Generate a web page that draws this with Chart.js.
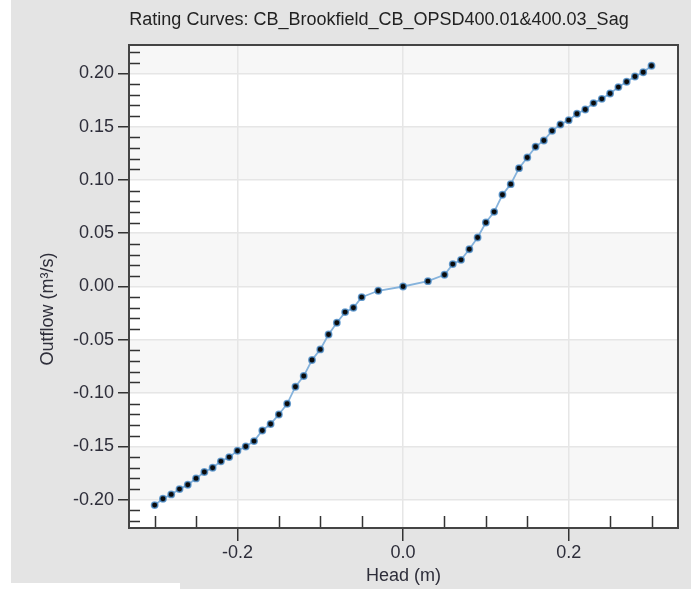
<!DOCTYPE html>
<html>
<head>
<meta charset="utf-8">
<script src="https://cdn.jsdelivr.net/npm/chart.js@4.4.0/dist/chart.umd.min.js"></script>
<style>
  html, body { margin: 0; padding: 0; background: #fff; }
  canvas { display: block; }
</style>
</head>
<body>
<canvas id="chart" width="691" height="589"></canvas>
<script>
const chartTitle = 'Rating Curves: CB_Brookfield_CB_OPSD400.01&400.03_Sag';
const xTitle = 'Head (m)';
const yTitle = 'Outflow (m³/s)';

// head (m) and outflow (m3/s)
const head = [-0.30, -0.29, -0.28, -0.27, -0.26, -0.25, -0.24, -0.23, -0.22, -0.21,
  -0.20, -0.19, -0.18, -0.17, -0.16, -0.15, -0.14, -0.13, -0.12, -0.11,
  -0.10, -0.09, -0.08, -0.07, -0.06, -0.05, -0.03, 0.00, 0.03, 0.05,
  0.06, 0.07, 0.08, 0.09, 0.10, 0.11, 0.12, 0.13, 0.14, 0.15,
  0.16, 0.17, 0.18, 0.19, 0.20, 0.21, 0.22, 0.23, 0.24, 0.25,
  0.26, 0.27, 0.28, 0.29, 0.30];
const outflow = [-0.205, -0.199, -0.195, -0.190, -0.186, -0.180, -0.174, -0.170, -0.164, -0.160,
  -0.154, -0.150, -0.145, -0.135, -0.129, -0.120, -0.110, -0.094, -0.084, -0.069,
  -0.059, -0.045, -0.034, -0.024, -0.020, -0.010, -0.004, 0.000, 0.005, 0.011,
  0.021, 0.025, 0.035, 0.046, 0.060, 0.070, 0.086, 0.096, 0.111, 0.121,
  0.131, 0.137, 0.146, 0.152, 0.156, 0.162, 0.166, 0.172, 0.176, 0.181,
  0.187, 0.192, 0.197, 0.201, 0.207];

// tick positions
const xTicks = [-0.30, -0.25, -0.20, -0.15, -0.10, -0.05, 0.00, 0.05, 0.10, 0.15, 0.20, 0.25, 0.30];
const xMajor = [-0.2, 0.0, 0.2];
const yTicks = [-0.22, -0.21, -0.20, -0.19, -0.18, -0.17, -0.16, -0.15, -0.14, -0.13, -0.12,
  -0.11, -0.10, -0.09, -0.08, -0.07, -0.06, -0.05, -0.04, -0.03, -0.02, -0.01, 0.00,
  0.01, 0.02, 0.03, 0.04, 0.05, 0.06, 0.07, 0.08, 0.09, 0.10, 0.11, 0.12,
  0.13, 0.14, 0.15, 0.16, 0.17, 0.18, 0.19, 0.20, 0.21, 0.22];
const yMajor = [0.20, 0.15, 0.10, 0.05, 0.00, -0.05, -0.10, -0.15, -0.20];

const isIn = (arr, v) => arr.some(m => Math.abs(m - v) < 1e-9);
const FONT = "'Liberation Sans', Arial, sans-serif";
const TXT = '#2e2e3a';

const decor = {
  id: 'decor',
  beforeDraw(chart) {
    const ctx = chart.ctx;
    const a = chart.chartArea;
    const y = chart.scales.y;
    ctx.save();
    ctx.fillStyle = '#fff';
    ctx.fillRect(0, 0, chart.width, chart.height);
    ctx.fillStyle = '#e4e4e4';
    ctx.fillRect(11, 0, chart.width - 11, 583);
    ctx.fillRect(180, 583, chart.width - 180, chart.height - 583);
    // alternating bands between the major y lines
    const edges = [a.top].concat(yMajor.map(v => y.getPixelForValue(v)), [a.bottom]);
    for (let i = 0; i < edges.length - 1; i++) {
      ctx.fillStyle = i % 2 === 0 ? '#f7f7f7' : '#ffffff';
      ctx.fillRect(a.left, edges[i], a.right - a.left, edges[i + 1] - edges[i]);
    }
    ctx.restore();
  },
  afterDraw(chart) {
    const ctx = chart.ctx;
    const a = chart.chartArea;
    const xs = chart.scales.x, ys = chart.scales.y;
    ctx.save();
    ctx.strokeStyle = '#333';
    ctx.lineWidth = 1.5;
    ctx.beginPath();
    xTicks.filter(v => !isIn(xMajor, v)).forEach(v => {
      const px = Math.round(xs.getPixelForValue(v)) + 0.5;
      ctx.moveTo(px, a.bottom);
      ctx.lineTo(px, a.bottom - 12);
    });
    yTicks.filter(v => !isIn(yMajor, v)).forEach(v => {
      const py = Math.round(ys.getPixelForValue(v)) + 0.5;
      ctx.moveTo(a.left, py);
      ctx.lineTo(a.left + 11, py);
    });
    ctx.stroke();
    ctx.strokeStyle = '#444';
    ctx.lineWidth = 2;
    ctx.strokeRect(a.left, a.top, a.right - a.left, a.bottom - a.top);

    ctx.fillStyle = '#222';
    ctx.font = '18px ' + FONT;
    ctx.textAlign = 'center';
    ctx.textBaseline = 'middle';
    ctx.fillText(chartTitle, 379, 20);
    ctx.fillStyle = TXT;
    ctx.translate(48, 309);
    ctx.rotate(-Math.PI / 2);
    ctx.fillText(yTitle, 0, 0);
    ctx.restore();
  }
};

new Chart(document.getElementById('chart'), {
  type: 'line',
  data: {
    datasets: [{
      data: head.map((h, i) => ({ x: h, y: outflow[i] })),
      borderColor: '#86b3dc',
      borderWidth: 1.8,
      pointRadius: 3.2,
      pointBackgroundColor: '#0a0a0a',
      pointBorderColor: 'rgba(80,145,205,0.8)',
      pointBorderWidth: 1.5,
      tension: 0
    }]
  },
  options: {
    responsive: false,
    animation: false,
    devicePixelRatio: 1,
    layout: { padding: { top: 45, right: 13, left: 0, bottom: 0 } },
    plugins: { legend: { display: false }, tooltip: { enabled: false } },
    scales: {
      x: {
        type: 'linear',
        min: -0.331,
        max: 0.332,
        afterBuildTicks: s => { s.ticks = xTicks.map(v => ({ value: v })); },
        afterFit: s => { s.height = 61; },
        ticks: {
          autoSkip: false, maxRotation: 0, padding: 1,
          color: TXT, font: { family: FONT, size: 18 },
          callback: v => isIn(xMajor, v) ? v.toFixed(1) : ''
        },
        grid: {
          color: c => isIn(xMajor, c.tick.value) ? '#e6e6e6' : 'rgba(0,0,0,0)',
          tickColor: c => isIn(xMajor, c.tick.value) ? '#333' : 'rgba(0,0,0,0)',
          tickLength: 13,
          lineWidth: 1.5,
          tickWidth: 1.5
        },
        border: { display: true, color: '#444', width: 2 },
        title: { display: true, text: xTitle, color: TXT, font: { family: FONT, size: 18 }, padding: { top: 0, bottom: 2 } }
      },
      y: {
        type: 'linear',
        min: -0.2265,
        max: 0.2265,
        afterBuildTicks: s => { s.ticks = yTicks.map(v => ({ value: v })); },
        afterFit: s => { s.width = 129; },
        ticks: {
          autoSkip: false, padding: 4,
          color: TXT, font: { family: FONT, size: 18 },
          callback: v => isIn(yMajor, v) ? v.toFixed(2) : ''
        },
        grid: {
          color: c => isIn(yMajor, c.tick.value) ? '#e6e6e6' : 'rgba(0,0,0,0)',
          tickColor: c => isIn(yMajor, c.tick.value) ? '#333' : 'rgba(0,0,0,0)',
          tickLength: 11,
          lineWidth: 1.5,
          tickWidth: 1.5
        },
        border: { display: true, color: '#444', width: 2 }
      }
    }
  },
  plugins: [decor]
});
</script>
</body>
</html>
